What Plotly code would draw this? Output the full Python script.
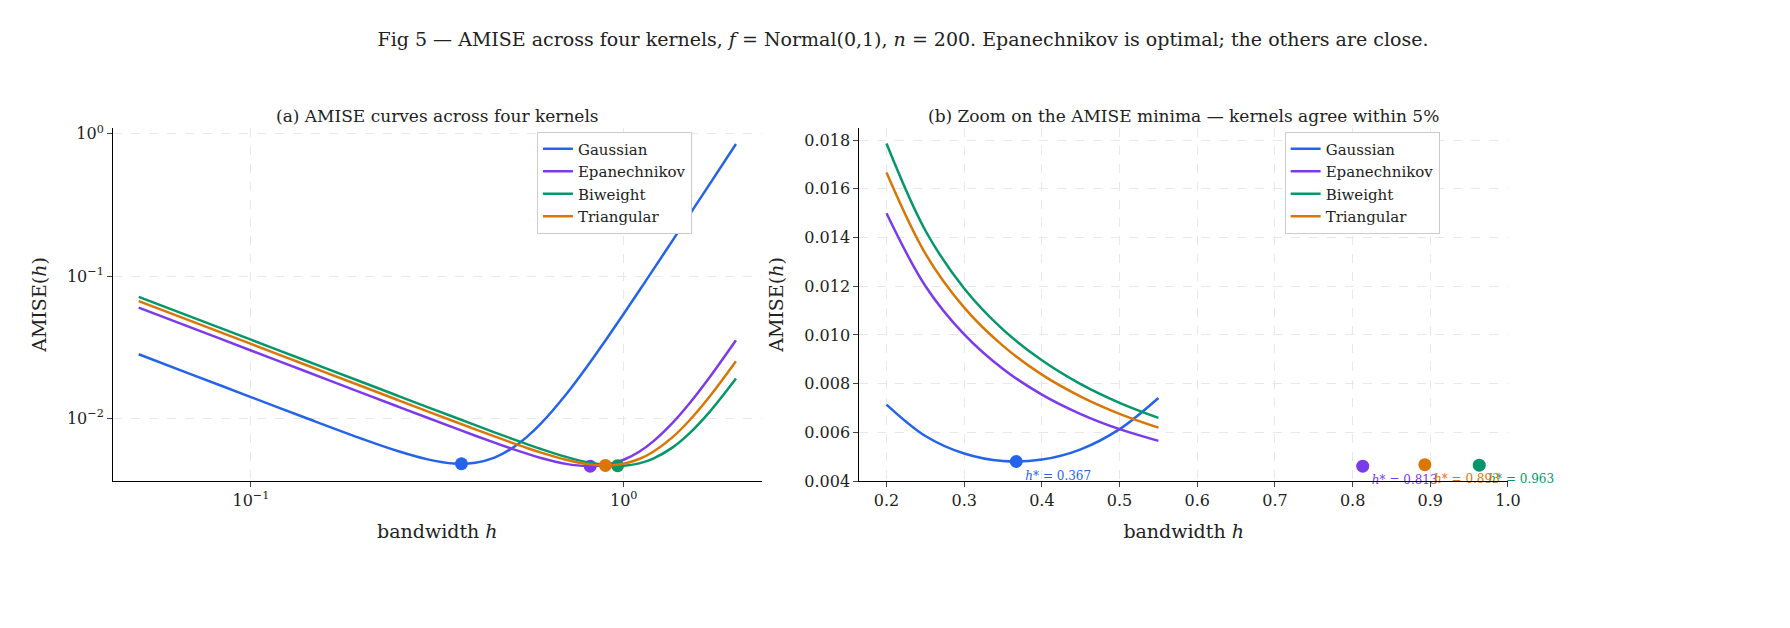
import plotly.graph_objects as go
from plotly.subplots import make_subplots

# bandwidth grid and AMISE values
h = [0.05, 0.07, 0.1, 0.14, 0.2, 0.25, 0.3, 0.35, 0.4, 0.45, 0.5, 0.55, 0.6,
     0.7, 0.8, 0.9, 1.0, 1.1, 1.2, 1.35, 1.5, 1.7, 2.0]
gaussian = [0.02821, 0.02015, 0.01411, 0.01010, 0.00714, 0.00585, 0.00513, 0.00482,
            0.00488, 0.00530, 0.00613, 0.00741, 0.00921, 0.01472, 0.02343, 0.03628,
            0.05431, 0.07873, 0.11087, 0.17675, 0.26875, 0.44266, 0.8471]
epanechnikov = [0.06, 0.042857, 0.03000, 0.02143, 0.01500, 0.01201, 0.01002, 0.00860,
                0.00755, 0.00675, 0.00613, 0.00565, 0.00527, 0.00479, 0.00462, 0.00472,
                0.00512, 0.00583, 0.00689, 0.00925, 0.01271, 0.01944, 0.03536]
biweight = [0.07143, 0.05102, 0.03571, 0.02551, 0.01786, 0.01429, 0.01191, 0.01022,
            0.00896, 0.00798, 0.00721, 0.00659, 0.00609, 0.00536, 0.00491, 0.00468,
            0.00465, 0.00483, 0.00522, 0.00623, 0.00785, 0.01112, 0.01906]
triangular = [0.06667, 0.04762, 0.03333, 0.02381, 0.01667, 0.01334, 0.01112, 0.00955,
              0.00837, 0.00747, 0.00676, 0.00619, 0.00575, 0.00512, 0.00477, 0.00467,
              0.00480, 0.00518, 0.00583, 0.00735, 0.00966, 0.01423, 0.02518]

names = ['Gaussian', 'Epanechnikov', 'Biweight', 'Triangular']
colors = ['#2563eb', '#7c3aed', '#059669', '#d97706']
curves = [gaussian, epanechnikov, biweight, triangular]
h_opt = [0.367, 0.813, 0.963, 0.893]
amise_opt = [0.00480, 0.00461, 0.00465, 0.00467]

FONT = 'DejaVu Serif'

fig = make_subplots(rows=1, cols=2, horizontal_spacing=0.07,
                    subplot_titles=('(a) AMISE curves across four kernels',
                                    '(b) Zoom on the AMISE minima — kernels agree within 5%'))

n_zoom = h.index(0.55) + 1
for name, col, y, ho, ao in zip(names, colors, curves, h_opt, amise_opt):
    fig.add_trace(go.Scatter(x=h, y=y, mode='lines', name=name, line=dict(color=col, width=2.5, shape='spline'),
                             legend='legend'), row=1, col=1)
    fig.add_trace(go.Scatter(x=[ho], y=[ao], mode='markers', marker=dict(color=col, size=13),
                             showlegend=False), row=1, col=1)
    fig.add_trace(go.Scatter(x=h[4:n_zoom], y=y[4:n_zoom], mode='lines', name=name,
                             line=dict(color=col, width=2.5, shape='spline'), legend='legend2'), row=1, col=2)
    fig.add_trace(go.Scatter(x=[ho], y=[ao], mode='markers+text', marker=dict(color=col, size=13),
                             text=[f'<i>h</i>* = {ho:.3f}'], textposition='bottom right', cliponaxis=False,
                             textfont=dict(color=col, size=12, family=FONT), showlegend=False), row=1, col=2)

fig.update_layout(
    width=1790, height=628, template='plotly_white',
    paper_bgcolor='white', plot_bgcolor='white',
    font=dict(family=FONT, size=16, color='#222'),
    title=dict(text='Fig 5 — AMISE across four kernels, <i>f</i> = Normal(0,1), <i>n</i> = 200. Epanechnikov is optimal; the others are close.',
               x=0.5, y=0.96, font=dict(size=19)),
    margin=dict(l=105, r=290, t=120, b=155),
    legend=dict(x=0.415, xanchor='right', y=0.99, yanchor='top', bgcolor='white',
                bordercolor='#ccc', borderwidth=1, font=dict(size=15)),
    legend2=dict(x=0.951, xanchor='right', y=0.99, yanchor='top', bgcolor='white',
                 bordercolor='#ccc', borderwidth=1, font=dict(size=15)),
)
fig.update_annotations(font=dict(size=17, family=FONT))

axis_style = dict(showline=True, linecolor='black', linewidth=1, ticks='outside', mirror=False,
                  gridcolor='#e8e8e8', griddash='dash', zeroline=False, tickfont=dict(size=16))
fig.update_xaxes(**axis_style)
fig.update_yaxes(**axis_style)

fig.update_xaxes(type='log', range=[-1.37, 0.37], tickvals=[0.1, 1], ticktext=['10<sup>−1</sup>', '10<sup>0</sup>'],
                 title_text='bandwidth <i>h</i>', row=1, col=1)
fig.update_yaxes(type='log', range=[-2.44, 0.04], tickvals=[0.01, 0.1, 1],
                 ticktext=['10<sup>−2</sup>', '10<sup>−1</sup>', '10<sup>0</sup>'],
                 title_text='AMISE(<i>h</i>)', row=1, col=1)
fig.update_xaxes(range=[0.165, 1.0], dtick=0.1, tickformat='.1f', title_text='bandwidth <i>h</i>', row=1, col=2)
fig.update_yaxes(range=[0.004, 0.0185], dtick=0.002, tickformat='.3f', title_text='AMISE(<i>h</i>)', row=1, col=2)

fig.write_html('out.html')
